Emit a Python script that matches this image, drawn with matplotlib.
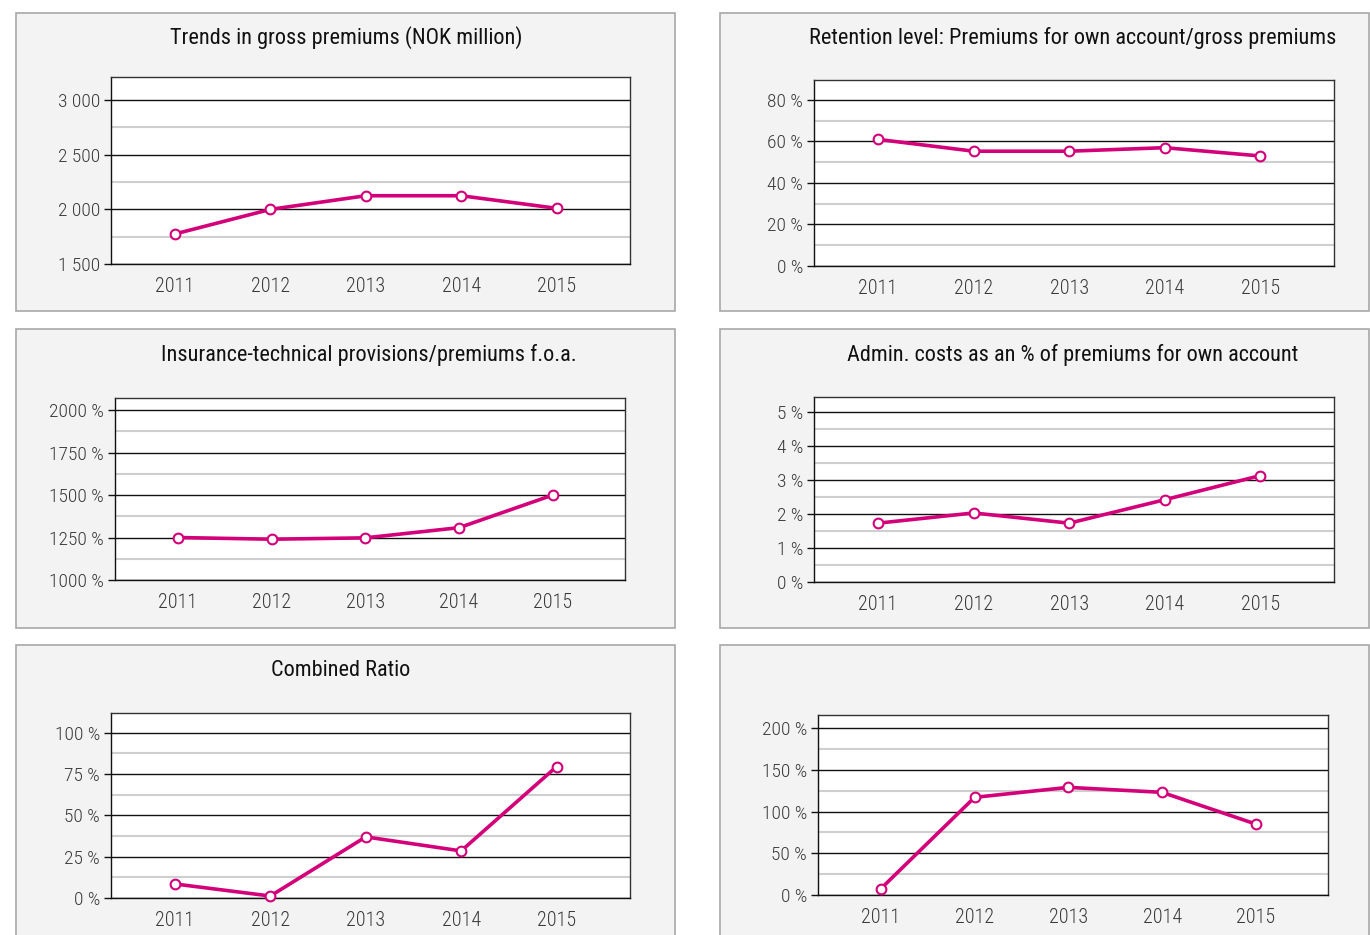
import matplotlib
matplotlib.use("Agg")
import matplotlib.pyplot as plt
from matplotlib.patches import Rectangle
from matplotlib.ticker import FixedLocator, FuncFormatter
from matplotlib import font_manager

# ---------------- data ----------------
years = ['2011', '2012', '2013', '2014', '2015']
gross_premiums = [1775, 2000, 2125, 2125, 2010]          # NOK million
retention = [61, 55.3, 55.3, 57, 53]                      # %
provisions = [1250, 1240, 1248, 1308, 1500]               # %
admin_costs = [1.73, 2.03, 1.73, 2.42, 3.13]              # %
combined_ratio = [8.5, 1.2, 37, 28.5, 79.5]               # %
sixth_series = [7.5, 117, 129, 123, 85]                   # %

titles = ['Trends in gross premiums (NOK million)',
          'Retention level: Premiums for own account/gross premiums',
          'Insurance-technical provisions/premiums f.o.a.',
          'Admin. costs as an % of premiums for own account',
          'Combined Ratio',
          '']

# ---------------- style ----------------
names = sorted({f.name for f in font_manager.fontManager.ttflist})
fam = 'DejaVu Sans'
for cand in ['Roboto Condensed', 'Open Sans Condensed', 'Liberation Sans Narrow',
             'DejaVu Sans Condensed', 'Noto Sans Condensed', 'Roboto']:
    if cand in names:
        fam = cand
        break
plt.rcParams['font.family'] = [fam, 'DejaVu Sans']

W, H = 1370, 935
fig = plt.figure(figsize=(W / 100, H / 100), dpi=100)
fig.patch.set_facecolor('white')

LINE = '#d4007a'


def fx(x):
    return x / W


def fy(y):
    return 1 - y / H


def box(x0, y0, x1, y1):
    fig.patches.append(Rectangle((fx(x0), fy(y1)), fx(x1) - fx(x0), fy(y0) - fy(y1),
                                 transform=fig.transFigure, facecolor='#f3f3f3',
                                 edgecolor='#a8a8a8', linewidth=1.2, zorder=-5))


def fmt_space(v, pos=None):
    return f'{int(round(v)):,}'.replace(',', ' ')


def panel(boxr, axr, title, title_xy, values, ylim, majors, step, fmt):
    box(*boxr)
    x0, y0, x1, y1 = axr
    ax = fig.add_axes([fx(x0), fy(y1), fx(x1) - fx(x0), fy(y0) - fy(y1)])
    ax.set_zorder(2)
    ax.set_facecolor('white')
    idx = list(range(len(years)))
    ax.plot(idx, values, color=LINE, lw=2.6, marker='o', ms=7,
            mfc='white', mec=LINE, mew=1.5, zorder=5, clip_on=False)
    ax.set_xlim(-0.67, len(years) - 1 + 0.77)
    ax.set_ylim(*ylim)
    ax.set_xticks(idx)
    ax.set_xticklabels(years)
    ax.yaxis.set_major_locator(FixedLocator(majors))
    minors = [m + step / 2 for m in majors if m + step / 2 < ylim[1]]
    ax.yaxis.set_minor_locator(FixedLocator(minors))
    ax.yaxis.set_major_formatter(FuncFormatter(fmt))
    ax.grid(True, which='major', axis='y', color='#111111', lw=1.0)
    ax.grid(True, which='minor', axis='y', color='#cfcfcf', lw=1.5)
    ax.set_axisbelow(True)
    ax.tick_params(axis='x', length=0, pad=9.5, labelsize=14.5, labelcolor='#3a3a3a')
    ax.tick_params(axis='y', which='major', length=5, width=1, color='#111111',
                   pad=3, labelsize=14, labelcolor='#3a3a3a')
    ax.tick_params(axis='y', which='minor', length=0)
    for lab in ax.get_xticklabels() + ax.get_yticklabels():
        lab.set_fontweight('light')
    for s in ax.spines.values():
        s.set_color('#333333')
        s.set_linewidth(1.0)
    ax.spines['left'].set_color('#111111')
    ax.spines['bottom'].set_color('#111111')
    if title:
        fig.text(fx(title_xy[0]), fy(title_xy[1]), title, ha='center', va='center',
                 fontsize=16, color='#111111', zorder=3)
    return ax


panel((16, 13, 675, 311), (111, 77, 630, 264), titles[0], (346, 38),
      gross_premiums, (1500, 3212), [1500, 2000, 2500, 3000], 500, fmt_space)
panel((720, 13, 1369, 311), (814, 80, 1334, 266), titles[1], (1073, 38),
      retention, (0, 89.6), [0, 20, 40, 60, 80], 20, lambda v, p=None: f'{int(v)} %')
panel((16, 329, 675, 628), (115, 398, 625, 580), titles[2], (369, 355),
      provisions, (1000, 2071), [1000, 1250, 1500, 1750, 2000], 250,
      lambda v, p=None: f'{int(v)} %')
panel((720, 329, 1369, 628), (814, 397, 1334, 582), titles[3], (1073, 355),
      admin_costs, (0, 5.44), [0, 1, 2, 3, 4, 5], 1, lambda v, p=None: f'{int(v)} %')
panel((16, 645, 675, 940), (111, 713, 630, 898), titles[4], (341, 671),
      combined_ratio, (0, 112), [0, 25, 50, 75, 100], 25, lambda v, p=None: f'{int(v)} %')
panel((720, 645, 1369, 940), (818, 715, 1328, 895), titles[5], (1073, 671),
      sixth_series, (0, 215.7), [0, 50, 100, 150, 200], 50, lambda v, p=None: f'{int(v)} %')

fig.savefig('out.png', dpi=100, facecolor='white')
